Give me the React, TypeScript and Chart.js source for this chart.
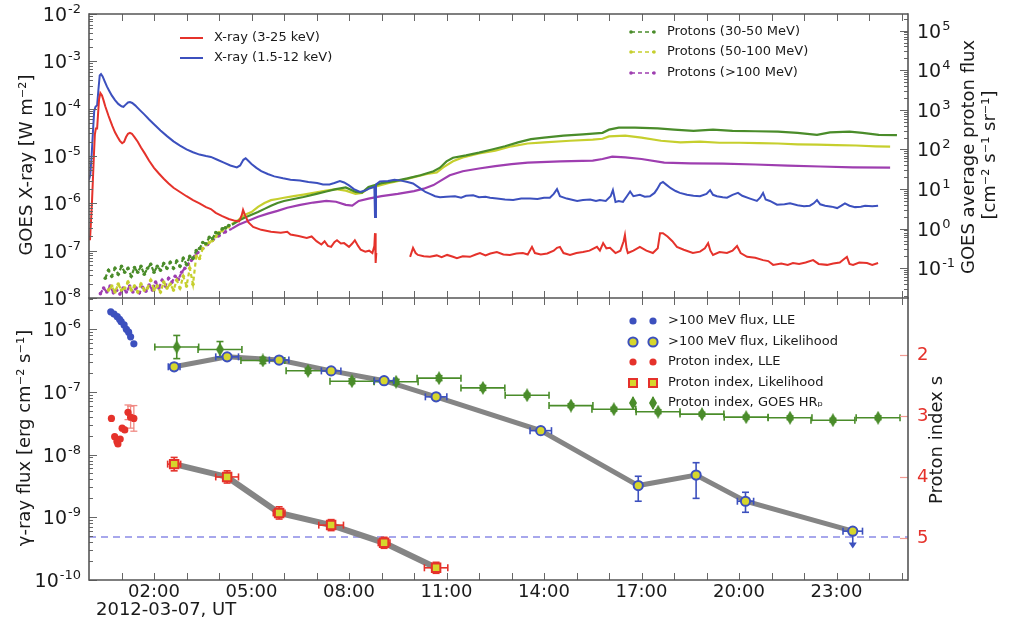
import React, { useEffect, useRef } from "react";
import { Chart, registerables } from "chart.js";
Chart.register(...registerables);

const FONT = "'DejaVu Sans', 'Liberation Sans', sans-serif";
const X_MIN = 0;
const X_MAX = 25.2;
const HOUR_LABEL_TICKS = [2, 5, 8, 11, 14, 17, 20, 23];
const TOP_LEFT_TICKS = [1e-8, 1e-7, 1e-6, 1e-5, 1e-4, 1e-3, 1e-2];
const TOP_RIGHT_TICKS = [1e-1, 1, 10, 100, 1e3, 1e4, 1e5];
const BOTTOM_LEFT_TICKS = [1e-10, 1e-9, 1e-8, 1e-7, 1e-6];
const INDEX_TICKS = [2, 3, 4, 5];

const RED = "#e5322b";
const BLUE = "#3c50be";
const GREEN = "#4a8c2a";
const YELLOW = "#c6cf2e";
const PURPLE = "#9e3eb0";
const MARK_YELLOW = "#d6d62c";
const GRAY = "#858585";

// ---------- top panel: [hour, log10 value] ----------
const xrayHard: [number, number | null][] = [
  [0.03, -6.78], [0.06, -6.4], [0.09, -6.0], [0.12, -5.5], [0.15, -5.0], [0.18, -4.55], [0.21, -4.42], [0.25, -4.42],
  [0.28, -4.1], [0.31, -3.8], [0.35, -3.67], [0.4, -3.72], [0.45, -3.83], [0.5, -3.95], [0.55, -4.05], [0.6, -4.15],
  [0.65, -4.24], [0.72, -4.37], [0.8, -4.5], [0.88, -4.6], [0.95, -4.68], [1.02, -4.73], [1.08, -4.7], [1.14, -4.6],
  [1.2, -4.53], [1.26, -4.51], [1.32, -4.53], [1.4, -4.6], [1.5, -4.7], [1.6, -4.82], [1.72, -4.95], [1.85, -5.1],
  [2.0, -5.25], [2.15, -5.37], [2.3, -5.48], [2.45, -5.58], [2.6, -5.67], [2.8, -5.76], [3.0, -5.85], [3.2, -5.93],
  [3.4, -6.0], [3.6, -6.08], [3.75, -6.12], [3.9, -6.2], [4.1, -6.27], [4.3, -6.33], [4.5, -6.37], [4.62, -6.38],
  [4.7, -6.25], [4.74, -6.14], [4.8, -6.25], [4.9, -6.4], [5.05, -6.5], [5.3, -6.56], [5.6, -6.6], [5.9, -6.62],
  [6.1, -6.6], [6.2, -6.66], [6.45, -6.69], [6.7, -6.73], [6.85, -6.7], [7.0, -6.8], [7.15, -6.87], [7.25, -6.8],
  [7.35, -6.9], [7.45, -6.92], [7.55, -6.82], [7.63, -6.78], [7.75, -6.85], [7.85, -6.84], [8.0, -6.92], [8.1, -6.85],
  [8.18, -6.78], [8.28, -6.9], [8.36, -6.98], [8.5, -7.02], [8.62, -7.0], [8.72, -7.05], [8.78, -6.9], [8.8, -6.63],
  [8.82, -7.26], [8.84, -7.05], [9.3, null],
  [9.88, -7.13], [9.97, -6.94], [10.05, -7.05], [10.12, -7.09], [10.3, -7.12], [10.49, -7.13], [10.7, -7.1],
  [10.85, -7.14], [11.02, -7.09], [11.2, -7.13], [11.32, -7.16], [11.5, -7.12], [11.72, -7.13], [11.9, -7.08],
  [12.03, -7.05], [12.2, -7.1], [12.35, -7.06], [12.55, -7.03], [12.75, -7.08], [12.95, -7.09], [13.15, -7.06],
  [13.35, -7.05], [13.5, -7.08], [13.63, -6.92], [13.72, -7.05], [13.9, -7.08], [14.1, -7.06], [14.3, -7.0],
  [14.4, -6.94], [14.49, -6.92], [14.6, -7.05], [14.8, -7.09], [15.0, -7.05], [15.2, -7.03], [15.4, -7.0],
  [15.63, -6.92], [15.72, -7.0], [15.82, -6.84], [15.92, -6.95], [16.03, -6.94], [16.2, -7.05], [16.35, -7.0],
  [16.45, -6.8], [16.49, -6.67], [16.54, -6.95], [16.58, -7.05], [16.75, -7.0], [16.95, -6.92], [17.15, -7.0],
  [17.35, -7.05], [17.5, -6.95], [17.57, -6.63], [17.66, -6.63], [17.8, -6.7], [17.95, -6.8], [18.09, -6.92],
  [18.3, -6.98], [18.58, -7.05], [18.8, -7.02], [18.95, -6.95], [19.05, -6.84], [19.12, -7.0], [19.2, -7.09],
  [19.4, -7.03], [19.63, -7.05], [19.8, -7.0], [19.94, -6.9], [20.05, -7.05], [20.25, -7.13], [20.5, -7.15],
  [20.74, -7.2], [20.9, -7.22], [21.05, -7.3], [21.3, -7.27], [21.5, -7.3], [21.66, -7.26], [21.85, -7.28],
  [22.05, -7.25], [22.28, -7.2], [22.45, -7.28], [22.71, -7.3], [22.9, -7.27], [23.1, -7.25], [23.32, -7.13],
  [23.4, -7.28], [23.51, -7.3], [23.7, -7.25], [23.94, -7.26], [24.1, -7.3], [24.28, -7.26],
];

const xraySoft: [number, number][] = [
  [0.0, -5.5], [0.04, -5.4], [0.08, -5.0], [0.12, -4.5], [0.16, -4.05], [0.2, -3.96], [0.25, -3.93], [0.29, -3.6],
  [0.33, -3.3], [0.37, -3.27], [0.42, -3.32], [0.48, -3.42], [0.55, -3.53], [0.62, -3.62], [0.7, -3.72], [0.8, -3.82],
  [0.9, -3.9], [1.0, -3.95], [1.06, -3.96], [1.12, -3.92], [1.2, -3.87], [1.26, -3.86], [1.33, -3.88], [1.42, -3.93],
  [1.55, -4.02], [1.7, -4.12], [1.85, -4.23], [2.0, -4.33], [2.2, -4.46], [2.4, -4.58], [2.6, -4.69], [2.8, -4.78],
  [3.0, -4.86], [3.2, -4.92], [3.4, -4.97], [3.6, -5.0], [3.75, -5.02], [3.95, -5.08], [4.15, -5.14], [4.35, -5.2],
  [4.55, -5.24], [4.65, -5.2], [4.75, -5.08], [4.82, -5.05], [4.9, -5.1], [5.0, -5.17], [5.15, -5.25], [5.3, -5.32],
  [5.5, -5.38], [5.7, -5.43], [5.97, -5.47], [6.2, -5.5], [6.49, -5.52], [6.75, -5.55], [7.02, -5.57], [7.2, -5.6],
  [7.4, -5.6], [7.55, -5.57], [7.72, -5.53], [7.85, -5.56], [8.0, -5.62], [8.15, -5.7], [8.34, -5.76], [8.5, -5.73],
  [8.65, -5.68], [8.78, -5.65], [8.8, -6.29], [8.83, -5.6], [8.95, -5.54], [9.2, -5.53], [9.4, -5.5], [9.6, -5.52],
  [9.8, -5.55], [9.97, -5.58], [10.18, -5.68], [10.35, -5.76], [10.49, -5.8], [10.65, -5.85], [10.8, -5.87],
  [11.0, -5.86], [11.26, -5.85], [11.45, -5.88], [11.6, -5.84], [11.82, -5.83], [12.0, -5.87], [12.2, -5.86],
  [12.34, -5.88], [12.55, -5.9], [12.8, -5.92], [13.05, -5.93], [13.3, -5.9], [13.57, -5.9], [13.8, -5.91],
  [14.0, -5.88], [14.18, -5.88], [14.3, -5.8], [14.4, -5.7], [14.49, -5.85], [14.7, -5.9], [15.02, -5.95],
  [15.2, -5.93], [15.42, -5.92], [15.6, -5.95], [15.72, -5.93], [15.9, -5.95], [16.05, -5.85], [16.12, -5.72],
  [16.2, -5.97], [16.3, -5.95], [16.43, -5.97], [16.55, -5.85], [16.65, -5.75], [16.75, -5.85], [16.95, -5.82],
  [17.1, -5.86], [17.26, -5.85], [17.4, -5.78], [17.48, -5.7], [17.58, -5.58], [17.66, -5.55], [17.75, -5.6],
  [17.9, -5.68], [18.05, -5.74], [18.18, -5.78], [18.4, -5.82], [18.6, -5.84], [18.8, -5.85], [19.0, -5.8],
  [19.11, -5.72], [19.2, -5.82], [19.32, -5.85], [19.5, -5.87], [19.63, -5.88], [19.8, -5.82], [19.97, -5.78],
  [20.1, -5.84], [20.34, -5.9], [20.55, -5.95], [20.65, -5.88], [20.74, -5.78], [20.82, -5.92], [20.95, -5.95],
  [21.17, -6.03], [21.4, -6.02], [21.57, -6.0], [21.8, -6.04], [22.0, -6.06], [22.18, -6.05], [22.3, -6.0],
  [22.4, -5.93], [22.5, -6.02], [22.65, -6.05], [22.85, -6.07], [23.02, -6.1], [23.15, -6.05], [23.26, -6.0],
  [23.4, -6.05], [23.57, -6.08], [23.75, -6.07], [23.88, -6.05], [24.1, -6.06], [24.28, -6.05],
];

const protons30to50: [number, number][] = [
  [0.5, -1.25], [0.6, -1.05], [0.7, -1.2], [0.8, -1.0], [0.9, -1.15], [1.0, -0.95], [1.1, -1.1], [1.2, -1.0],
  [1.3, -1.2], [1.4, -0.98], [1.5, -1.1], [1.6, -0.95], [1.7, -1.15], [1.8, -1.0], [1.9, -0.9], [2.0, -1.1],
  [2.1, -0.95], [2.2, -1.05], [2.3, -0.88], [2.4, -1.0], [2.5, -0.85], [2.6, -1.0], [2.7, -0.82], [2.8, -0.95],
  [2.9, -0.75], [3.0, -0.9], [3.1, -0.7], [3.2, -0.75], [3.3, -0.55], [3.4, -0.5], [3.5, -0.35], [3.6, -0.38],
  [3.7, -0.22], [3.8, -0.25], [3.9, -0.1], [4.0, -0.12], [4.1, 0.0], [4.2, 0.02], [4.3, 0.08], [4.4, 0.1],
  [4.6, 0.2], [4.8, 0.28], [5.0, 0.35], [5.2, 0.42], [5.4, 0.5], [5.6, 0.58], [5.8, 0.65], [6.0, 0.7],
  [6.3, 0.75], [6.6, 0.8], [7.0, 0.88], [7.3, 0.94], [7.6, 1.0], [7.9, 1.04], [8.2, 0.93], [8.4, 0.91],
  [8.6, 1.05], [8.8, 1.1], [9.0, 1.15], [9.4, 1.2], [9.8, 1.27], [10.2, 1.35], [10.6, 1.45], [10.8, 1.54],
  [11.0, 1.7], [11.2, 1.79], [11.6, 1.85], [12.0, 1.92], [12.4, 2.0], [12.8, 2.08], [13.2, 2.18], [13.6, 2.26],
  [14.0, 2.3], [14.6, 2.35], [15.2, 2.38], [15.8, 2.42], [16.0, 2.5], [16.3, 2.55], [16.8, 2.55], [17.5, 2.53],
  [18.0, 2.5], [18.6, 2.47], [19.2, 2.5], [19.8, 2.47], [20.5, 2.46], [21.2, 2.45], [21.8, 2.42], [22.4, 2.37],
  [22.8, 2.43], [23.4, 2.45], [23.8, 2.42], [24.3, 2.37], [24.86, 2.36],
];

const protons50to100: [number, number][] = [
  [0.6, -1.55], [0.7, -1.45], [0.8, -1.6], [0.9, -1.4], [1.0, -1.55], [1.1, -1.5], [1.2, -1.35], [1.3, -1.55],
  [1.4, -1.45], [1.5, -1.6], [1.6, -1.4], [1.7, -1.55], [1.8, -1.5], [1.9, -1.3], [2.0, -1.55], [2.1, -1.45],
  [2.2, -1.6], [2.3, -1.35], [2.4, -1.5], [2.5, -1.4], [2.6, -1.55], [2.7, -1.3], [2.8, -1.5], [2.9, -1.2],
  [3.0, -1.45], [3.1, -1.0], [3.2, -1.4], [3.3, -0.7], [3.4, -0.75], [3.5, -0.5], [3.6, -0.4], [3.7, -0.35],
  [3.8, -0.3], [3.9, -0.2], [4.0, -0.1], [4.1, -0.05], [4.2, 0.02], [4.3, 0.05], [4.4, 0.12], [4.6, 0.22],
  [4.8, 0.35], [5.0, 0.42], [5.2, 0.55], [5.4, 0.65], [5.6, 0.72], [5.8, 0.75], [6.0, 0.78], [6.3, 0.82],
  [6.6, 0.86], [7.0, 0.92], [7.3, 0.96], [7.6, 1.0], [7.9, 0.96], [8.2, 0.88], [8.4, 0.9], [8.6, 1.02],
  [8.8, 1.06], [9.2, 1.15], [9.6, 1.22], [10.0, 1.3], [10.4, 1.38], [10.7, 1.42], [10.9, 1.55], [11.2, 1.7],
  [11.5, 1.8], [12.0, 1.9], [12.5, 1.97], [13.0, 2.08], [13.5, 2.15], [14.0, 2.18], [14.8, 2.22], [15.5, 2.25],
  [15.8, 2.27], [16.0, 2.33], [16.5, 2.35], [17.0, 2.3], [17.6, 2.22], [18.2, 2.18], [18.8, 2.2], [19.4, 2.17],
  [20.0, 2.17], [20.6, 2.16], [21.2, 2.15], [21.8, 2.13], [22.4, 2.12], [23.0, 2.11], [23.6, 2.1], [24.2, 2.08],
  [24.65, 2.07],
];

const protonsAbove100: [number, number][] = [
  [0.35, -1.64], [0.45, -1.5], [0.55, -1.6], [0.65, -1.45], [0.75, -1.62], [0.85, -1.55], [0.95, -1.65],
  [1.05, -1.5], [1.15, -1.6], [1.25, -1.45], [1.35, -1.6], [1.45, -1.5], [1.55, -1.62], [1.65, -1.48],
  [1.75, -1.58], [1.85, -1.42], [1.95, -1.55], [2.05, -1.35], [2.15, -1.5], [2.25, -1.3], [2.35, -1.45],
  [2.45, -1.25], [2.55, -1.35], [2.65, -1.2], [2.75, -1.28], [2.85, -1.1], [2.95, -1.0], [3.05, -0.9],
  [3.15, -0.8], [3.25, -0.7], [3.35, -0.6], [3.5, -0.5], [3.65, -0.4], [3.8, -0.3], [4.0, -0.18], [4.2, -0.08],
  [4.4, 0.0], [4.6, 0.1], [4.9, 0.2], [5.2, 0.3], [5.5, 0.38], [5.8, 0.45], [6.1, 0.53], [6.5, 0.6], [6.9, 0.66],
  [7.3, 0.7], [7.6, 0.68], [7.9, 0.6], [8.1, 0.58], [8.3, 0.7], [8.6, 0.76], [9.0, 0.82], [9.5, 0.88],
  [10.0, 0.95], [10.3, 1.01], [10.6, 1.1], [10.8, 1.2], [11.1, 1.35], [11.5, 1.45], [12.0, 1.52], [12.5, 1.58],
  [13.0, 1.63], [13.5, 1.67], [14.5, 1.7], [15.5, 1.72], [15.8, 1.76], [16.1, 1.82], [16.5, 1.8], [17.0, 1.76],
  [17.7, 1.67], [18.5, 1.65], [19.5, 1.64], [20.5, 1.62], [21.5, 1.59], [22.5, 1.57], [23.5, 1.55], [24.65, 1.54],
];

// ---------- bottom panel ----------
const lleFluxHours = [0.67, 0.77, 0.87, 0.94, 0.99, 1.08, 1.15, 1.22, 1.28, 1.38];
const lleFlux = [1.88e-6, 1.73e-6, 1.57e-6, 1.43e-6, 1.31e-6, 1.16e-6, 9.9e-7, 8.9e-7, 7.5e-7, 5.8e-7];

const likeFluxHours = [2.62, 4.25, 5.85, 7.45, 9.08, 10.68, 13.9, 16.9, 18.68, 20.2, 23.5];
const likeFlux = [2.5e-7, 3.6e-7, 3.2e-7, 2.15e-7, 1.5e-7, 8.3e-8, 2.4e-8, 3.2e-9, 4.7e-9, 1.8e-9, 6.0e-10];
const likeFluxHourErr = [0.18, 0.35, 0.3, 0.3, 0.3, 0.33, 0.33, 0, 0, 0.25, 0.3];
const likeFluxLow = [null, null, null, null, null, null, 2.1e-8, 1.8e-9, 2.0e-9, 1.2e-9, null];
const likeFluxHigh = [null, null, null, null, null, null, 2.7e-8, 4.5e-9, 7.4e-9, 2.5e-9, null];
const likeFluxUpperTo = [null, null, null, null, null, null, null, null, null, null, 3.3e-10];

const lleIndexHours = [0.69, 0.79, 0.86, 0.89, 0.96, 1.02, 1.1, 1.2, 1.28, 1.38];
const lleIndex = [3.04, 3.34, 3.42, 3.46, 3.38, 3.2, 3.23, 2.94, 3.02, 3.04];
const lleIndexErr = [0, 0, 0, 0, 0, 0, 0, 0.12, 0.18, 0.21];

const likeIndexHours = [2.62, 4.25, 5.85, 7.45, 9.08, 10.68];
const likeIndex = [3.79, 4.0, 4.59, 4.79, 5.08, 5.49];
const likeIndexErr = [0.11, 0.1, 0.1, 0.09, 0.09, 0.09];
const likeIndexHourErr = [0.2, 0.35, 0.18, 0.38, 0.18, 0.36];

const goesHours = [2.7, 4.03, 5.35, 6.74, 8.09, 9.45, 10.77, 12.12, 13.48, 14.83, 16.15, 17.51, 18.86, 20.22, 21.57, 22.89, 24.28];
const goesIndex = [1.87, 1.91, 2.09, 2.26, 2.43, 2.44, 2.38, 2.54, 2.66, 2.83, 2.89, 2.93, 2.97, 3.02, 3.03, 3.07, 3.03];
const goesIndexErr = [0.19, 0.13, 0.05, 0.04, 0.04, 0.04, 0.04, 0.04, 0.03, 0.03, 0.03, 0.03, 0.03, 0.03, 0.03, 0.03, 0.03];
const goesHourErr = 0.675;

const lleThreshold = 4.86e-10;

// ---------- layout constants (page pixels) ----------
const TOP_PLOT_TOP = 14;
const MID_Y = 298;
const BOTTOM_PLOT_BOTTOM = 580;
const BOT_PAD_TOP = 24;
const BOT_XAXIS_H = 44;

// ---------- helpers ----------
const logSeries = (arr: [number, number | null][]) =>
  arr.map(([x, l]) => ({ x, y: l === null ? null : Math.pow(10, l) }));
const zipSeries = (xs: number[], ys: number[]) => xs.map((x, i) => ({ x, y: ys[i] }));
const hourLabel = (h: number) => `${String(h).padStart(2, "0")}:00`;

function thinDiamond(color: string, w: number, h: number) {
  const c = document.createElement("canvas");
  c.width = w;
  c.height = h;
  const g = c.getContext("2d")!;
  g.fillStyle = color;
  g.beginPath();
  g.moveTo(w / 2, 0);
  g.lineTo(w, h / 2);
  g.lineTo(w / 2, h);
  g.lineTo(0, h / 2);
  g.closePath();
  g.fill();
  return c;
}

function line(ctx: CanvasRenderingContext2D, x1: number, y1: number, x2: number, y2: number) {
  ctx.beginPath();
  ctx.moveTo(x1, y1);
  ctx.lineTo(x2, y2);
  ctx.stroke();
}

function vText(ctx: CanvasRenderingContext2D, text: string, x: number, y: number, size = 18, color = "#1a1a1a") {
  ctx.save();
  ctx.translate(x, y);
  ctx.rotate(-Math.PI / 2);
  ctx.font = `${size}px ${FONT}`;
  ctx.fillStyle = color;
  ctx.textAlign = "center";
  ctx.textBaseline = "middle";
  ctx.fillText(text, 0, 0);
  ctx.restore();
}

// "10" with a raised exponent, like the mathtext tick labels
function drawPowLabels(ctx: CanvasRenderingContext2D, scale: any, side: "left" | "right", anchorX: number) {
  ctx.save();
  ctx.fillStyle = "#1a1a1a";
  ctx.textBaseline = "alphabetic";
  ctx.textAlign = "left";
  for (const t of scale.ticks) {
    const v = t.value;
    const e = String(Math.round(Math.log10(v)));
    const py = scale.getPixelForValue(v);
    ctx.font = `19px ${FONT}`;
    const wBase = ctx.measureText("10").width;
    ctx.font = `13px ${FONT}`;
    const wExp = ctx.measureText(e).width;
    const x0 = side === "left" ? anchorX - wBase - wExp - 1 : anchorX;
    const base = py + 7;
    ctx.font = `19px ${FONT}`;
    ctx.fillText("10", x0, base);
    ctx.font = `13px ${FONT}`;
    ctx.fillText(e, x0 + wBase + 1, base - 8);
  }
  ctx.restore();
}

function logTickList(min: number, max: number) {
  const out: { v: number; major: boolean }[] = [];
  for (let e = Math.floor(Math.log10(min)); e <= Math.ceil(Math.log10(max)); e++) {
    for (let m = 1; m <= 9; m++) {
      const v = m * Math.pow(10, e);
      if (v >= min * 0.9999 && v <= max * 1.0001) out.push({ v, major: m === 1 });
    }
  }
  return out;
}

function drawFrameAndTicks(chart: any, rightLog: boolean, sides: { top: boolean; bottom: boolean }, rightTicks?: number[]) {
  const { ctx, chartArea: a, scales } = chart;
  ctx.save();
  ctx.strokeStyle = "#666";
  ctx.lineWidth = 1;
  for (let h = 1; h <= 25; h++) {
    const px = Math.round(scales.x.getPixelForValue(h)) + 0.5;
    line(ctx, px, a.top, px, a.top + 7);
    line(ctx, px, a.bottom, px, a.bottom - 7);
  }
  const yl = scales.y;
  for (const t of logTickList(yl.min, yl.max)) {
    const py = Math.round(yl.getPixelForValue(t.v)) + 0.5;
    line(ctx, a.left, py, a.left + (t.major ? 8 : 4), py);
  }
  const yr = scales.y2;
  if (rightLog) {
    for (const t of logTickList(yr.min, yr.max)) {
      const py = Math.round(yr.getPixelForValue(t.v)) + 0.5;
      line(ctx, a.right, py, a.right - (t.major ? 8 : 4), py);
    }
  } else if (rightTicks) {
    ctx.strokeStyle = "#f29a92";
    ctx.lineWidth = 1.2;
    for (const v of rightTicks) {
      const py = Math.round(yr.getPixelForValue(v)) + 0.5;
      line(ctx, a.right, py, a.right - 8, py);
    }
  }
  ctx.strokeStyle = "#555";
  ctx.lineWidth = 1.6;
  line(ctx, a.left, a.top - 0.8, a.left, a.bottom + 0.8);
  line(ctx, a.right, a.top - 0.8, a.right, a.bottom + 0.8);
  if (sides.top) line(ctx, a.left, a.top, a.right, a.top);
  if (sides.bottom) line(ctx, a.left, a.bottom, a.right, a.bottom);
  ctx.restore();
}

function drawErrorBars(chart: any, ds: any) {
  const eb = ds.errorBars;
  if (!eb) return;
  const { ctx } = chart;
  const xs = chart.scales.x;
  const ys = chart.scales[ds.yAxisID];
  ctx.save();
  ctx.strokeStyle = eb.color;
  ctx.fillStyle = eb.color;
  ctx.lineWidth = eb.width || 1.5;
  const cap = eb.cap || 3.5;
  ds.data.forEach((p: any, i: number) => {
    const px = xs.getPixelForValue(p.x);
    const py = ys.getPixelForValue(p.y);
    const xe = eb.xErr ? eb.xErr[i] : 0;
    if (xe) {
      const x1 = xs.getPixelForValue(p.x - xe);
      const x2 = xs.getPixelForValue(p.x + xe);
      line(ctx, x1, py, x2, py);
      line(ctx, x1, py - cap, x1, py + cap);
      line(ctx, x2, py - cap, x2, py + cap);
    }
    const lo = eb.yLo ? eb.yLo[i] : null;
    const hi = eb.yHi ? eb.yHi[i] : null;
    if (lo != null && hi != null && lo !== hi) {
      const y1 = ys.getPixelForValue(lo);
      const y2 = ys.getPixelForValue(hi);
      line(ctx, px, y1, px, y2);
      line(ctx, px - cap, y1, px + cap, y1);
      line(ctx, px - cap, y2, px + cap, y2);
    }
    const ul = eb.upperTo ? eb.upperTo[i] : null;
    if (ul != null) {
      const y2 = ys.getPixelForValue(ul);
      line(ctx, px, py, px, y2 - 4);
      ctx.beginPath();
      ctx.moveTo(px - 4, y2 - 5);
      ctx.lineTo(px + 4, y2 - 5);
      ctx.lineTo(px, y2 + 1);
      ctx.closePath();
      ctx.fill();
    }
  });
  ctx.restore();
}

const axisFont = { family: FONT, size: 18 };
const BOT_CANVAS_H = BOT_PAD_TOP + (BOTTOM_PLOT_BOTTOM - MID_Y) + BOT_XAXIS_H;

export default function App() {
  const topRef = useRef<HTMLCanvasElement>(null);
  const botRef = useRef<HTMLCanvasElement>(null);

  useEffect(() => {
    const protonRadius = (c: any) => (c.raw && c.raw.x < 4.4 ? 1.8 : 0);
    const protonDash = (c: any) => (c.p0.parsed.x < 4.4 ? [4, 3] : undefined);
    const protonDs = (label: string, arr: [number, number][], color: string) => ({
      label,
      data: logSeries(arr),
      yAxisID: "y2",
      borderColor: color,
      backgroundColor: color,
      borderWidth: 2.2,
      pointRadius: protonRadius,
      pointBorderWidth: 0,
      pointBackgroundColor: color,
      segment: { borderDash: protonDash },
      order: 5,
    });

    const topPlugin = {
      id: "topDeco",
      afterDraw(chart: any) {
        const ctx = chart.ctx as CanvasRenderingContext2D;
        const a = chart.chartArea;
        const off = a.top - TOP_PLOT_TOP;
        const Y = (pageY: number) => pageY + off;
        drawFrameAndTicks(chart, true, { top: true, bottom: true });
        drawPowLabels(ctx, chart.scales.y, "left", a.left - 8);
        drawPowLabels(ctx, chart.scales.y2, "right", a.right + 9);
        vText(ctx, "GOES X-ray [W m\u207B\u00B2]", 27, Y(165));
        vText(ctx, "GOES average proton flux", 969, Y(157));
        vText(ctx, "[cm\u207B\u00B2 s\u207B\u00B9 sr\u207B\u00B9]", 990, Y(155));
        ctx.save();
        ctx.font = `13px ${FONT}`;
        ctx.textBaseline = "middle";
        ctx.fillStyle = "#1a1a1a";
        const xr = [
          ["X-ray (3-25 keV)", RED, 38],
          ["X-ray (1.5-12 keV)", BLUE, 58],
        ] as const;
        for (const [t, c, y0] of xr) {
          const y = Y(y0);
          ctx.strokeStyle = c;
          ctx.lineWidth = 2;
          line(ctx, 180, y, 203, y);
          ctx.fillText(t, 214, y);
        }
        const pr = [
          ["Protons (30-50 MeV)", GREEN, 32],
          ["Protons (50-100 MeV)", YELLOW, 52],
          ["Protons (>100 MeV)", PURPLE, 73],
        ] as const;
        for (const [t, c, y0] of pr) {
          const y = Y(y0);
          ctx.strokeStyle = c;
          ctx.fillStyle = c;
          ctx.lineWidth = 1.6;
          ctx.setLineDash([4, 3]);
          line(ctx, 631, y, 654, y);
          ctx.setLineDash([]);
          for (const px of [631, 654]) {
            ctx.beginPath();
            ctx.arc(px, y, 1.8, 0, Math.PI * 2);
            ctx.fill();
          }
          ctx.fillStyle = "#1a1a1a";
          ctx.fillText(t, 667, y);
        }
        ctx.restore();
      },
    };

    const top = new Chart(topRef.current!, {
      type: "line",
      data: {
        datasets: [
          protonDs("Protons (30-50 MeV)", protons30to50, GREEN),
          protonDs("Protons (50-100 MeV)", protons50to100, YELLOW),
          protonDs("Protons (>100 MeV)", protonsAbove100, PURPLE),
          {
            label: "X-ray (3-25 keV)",
            data: logSeries(xrayHard),
            yAxisID: "y",
            borderColor: RED,
            borderWidth: 2,
            pointRadius: 0,
            spanGaps: false,
            order: 2,
          },
          {
            label: "X-ray (1.5-12 keV)",
            data: logSeries(xraySoft),
            yAxisID: "y",
            borderColor: BLUE,
            borderWidth: 2,
            pointRadius: 0,
            order: 3,
          },
        ] as any,
      },
      options: {
        animation: false,
        responsive: false,
        maintainAspectRatio: false,
        parsing: false as any,
        layout: { padding: { top: 14, bottom: 12, left: 0, right: 0 } },
        plugins: { legend: { display: false }, tooltip: { enabled: false } },
        scales: {
          x: { type: "linear", min: X_MIN, max: X_MAX, display: false },
          y: {
            type: "logarithmic",
            position: "left",
            min: 1e-8,
            max: 1e-2,
            afterFit: (s: any) => { s.width = 89; },
            afterBuildTicks: (s: any) => { s.ticks = TOP_LEFT_TICKS.map((v) => ({ value: v })); },
            ticks: { display: false },
            grid: { display: false, drawTicks: false },
            border: { display: false },
          },
          y2: {
            type: "logarithmic",
            position: "right",
            min: Math.pow(10, -1.75),
            max: Math.pow(10, 5.42),
            afterFit: (s: any) => { s.width = 101; },
            afterBuildTicks: (s: any) => { s.ticks = TOP_RIGHT_TICKS.map((v) => ({ value: v })); },
            ticks: { display: false },
            grid: { display: false, drawTicks: false },
            border: { display: false },
          },
        },
      } as any,
      plugins: [topPlugin],
    });

    const diamond = thinDiamond(GREEN, 8, 14);

    const botPlugin = {
      id: "botDeco",
      beforeDatasetDraw(chart: any, args: any) {
        drawErrorBars(chart, chart.data.datasets[args.index]);
      },
      afterDraw(chart: any) {
        const ctx = chart.ctx as CanvasRenderingContext2D;
        const a = chart.chartArea;
        const off = a.top - MID_Y;
        const Y = (pageY: number) => pageY + off;
        drawFrameAndTicks(chart, false, { top: false, bottom: true }, INDEX_TICKS);
        drawPowLabels(ctx, chart.scales.y, "left", a.left - 8);
        vText(ctx, "\u03B3-ray flux [erg cm\u207B\u00B2 s\u207B\u00B9]", 25, Y(438));
        vText(ctx, "Proton index s", 937, Y(440));
        ctx.save();
        ctx.font = `18px ${FONT}`;
        ctx.fillStyle = "#1a1a1a";
        ctx.textBaseline = "middle";
        ctx.textAlign = "left";
        ctx.fillText("2012-03-07, UT", 96, Y(610));
        // legend
        ctx.font = `13px ${FONT}`;
        const ly = [321, 342, 362, 383, 403].map(Y);
        const mx = [633, 653];
        for (const x of mx) {
          ctx.fillStyle = BLUE;
          ctx.beginPath(); ctx.arc(x, ly[0], 3.6, 0, Math.PI * 2); ctx.fill();
          ctx.fillStyle = MARK_YELLOW; ctx.strokeStyle = BLUE; ctx.lineWidth = 2;
          ctx.beginPath(); ctx.arc(x, ly[1], 4.6, 0, Math.PI * 2); ctx.fill(); ctx.stroke();
          ctx.fillStyle = RED;
          ctx.beginPath(); ctx.arc(x, ly[2], 3.6, 0, Math.PI * 2); ctx.fill();
          ctx.fillStyle = MARK_YELLOW; ctx.strokeStyle = RED; ctx.lineWidth = 2;
          ctx.fillRect(x - 4, ly[3] - 4, 8, 8); ctx.strokeRect(x - 4, ly[3] - 4, 8, 8);
          ctx.strokeStyle = GREEN; ctx.lineWidth = 1.5;
          line(ctx, x, ly[4] - 6, x, ly[4] + 6);
          ctx.drawImage(diamond, x - 4, ly[4] - 7);
        }
        ctx.fillStyle = "#1a1a1a";
        const texts = [
          ">100 MeV flux, LLE",
          ">100 MeV flux, Likelihood",
          "Proton index, LLE",
          "Proton index, Likelihood",
          "Proton index, GOES HR\u209A",
        ];
        texts.forEach((t, i) => ctx.fillText(t, 668, ly[i]));
        ctx.restore();
      },
    };

    const bot = new Chart(botRef.current!, {
      type: "line",
      data: {
        datasets: [
          {
            label: "threshold",
            data: [{ x: X_MIN, y: lleThreshold }, { x: X_MAX, y: lleThreshold }],
            yAxisID: "y",
            borderColor: "#8a8ae6",
            borderWidth: 1.5,
            borderDash: [7, 5],
            pointRadius: 0,
            order: 20,
          },
          {
            label: "flux likelihood band",
            data: zipSeries(likeFluxHours, likeFlux),
            yAxisID: "y",
            borderColor: GRAY,
            borderWidth: 5,
            pointRadius: 0,
            order: 15,
          },
          {
            label: "index likelihood band",
            data: zipSeries(likeIndexHours, likeIndex),
            yAxisID: "y2",
            borderColor: GRAY,
            borderWidth: 6,
            pointRadius: 0,
            order: 14,
          },
          {
            label: "Proton index, GOES HRp",
            data: zipSeries(goesHours, goesIndex),
            yAxisID: "y2",
            showLine: false,
            pointStyle: diamond,
            pointRadius: 6,
            errorBars: {
              color: GREEN,
              width: 1.6,
              xErr: goesHours.map(() => goesHourErr),
              yLo: goesIndex.map((v, i) => v - goesIndexErr[i]),
              yHi: goesIndex.map((v, i) => v + goesIndexErr[i]),
            },
            order: 6,
          },
          {
            label: ">100 MeV flux, LLE",
            data: zipSeries(lleFluxHours, lleFlux),
            yAxisID: "y",
            showLine: false,
            pointStyle: "circle",
            pointRadius: 3.6,
            pointBackgroundColor: BLUE,
            pointBorderColor: BLUE,
            pointBorderWidth: 0,
            order: 4,
          },
          {
            label: "Proton index, LLE",
            data: zipSeries(lleIndexHours, lleIndex),
            yAxisID: "y2",
            showLine: false,
            pointStyle: "circle",
            pointRadius: 3.6,
            pointBackgroundColor: RED,
            pointBorderColor: RED,
            pointBorderWidth: 0,
            errorBars: {
              color: "#f08a84",
              width: 1.3,
              yLo: lleIndex.map((v, i) => v - lleIndexErr[i]),
              yHi: lleIndex.map((v, i) => v + lleIndexErr[i]),
            },
            order: 4,
          },
          {
            label: ">100 MeV flux, Likelihood",
            data: zipSeries(likeFluxHours, likeFlux),
            yAxisID: "y",
            showLine: false,
            pointStyle: "circle",
            pointRadius: 4.6,
            pointBackgroundColor: MARK_YELLOW,
            pointBorderColor: BLUE,
            pointBorderWidth: 2,
            errorBars: {
              color: BLUE,
              width: 1.6,
              xErr: likeFluxHourErr,
              yLo: likeFluxLow,
              yHi: likeFluxHigh,
              upperTo: likeFluxUpperTo,
            },
            order: 2,
          },
          {
            label: "Proton index, Likelihood",
            data: zipSeries(likeIndexHours, likeIndex),
            yAxisID: "y2",
            showLine: false,
            pointStyle: "rect",
            pointRadius: 6,
            pointBackgroundColor: MARK_YELLOW,
            pointBorderColor: RED,
            pointBorderWidth: 2,
            errorBars: {
              color: RED,
              width: 1.6,
              xErr: likeIndexHourErr,
              yLo: likeIndex.map((v, i) => v - likeIndexErr[i]),
              yHi: likeIndex.map((v, i) => v + likeIndexErr[i]),
            },
            order: 1,
          },
        ] as any,
      },
      options: {
        animation: false,
        responsive: false,
        maintainAspectRatio: false,
        parsing: false as any,
        layout: { padding: { top: BOT_PAD_TOP, bottom: 0, left: 0, right: 0 } },
        plugins: { legend: { display: false }, tooltip: { enabled: false } },
        scales: {
          x: {
            type: "linear",
            min: X_MIN,
            max: X_MAX,
            afterFit: (s: any) => { s.height = BOT_XAXIS_H; },
            afterBuildTicks: (s: any) => { s.ticks = HOUR_LABEL_TICKS.map((v) => ({ value: v })); },
            ticks: { callback: (v: any) => hourLabel(Number(v)), font: axisFont, color: "#1a1a1a", padding: 2, maxRotation: 0, autoSkip: false },
            grid: { display: false, drawTicks: false },
            border: { display: false },
          },
          y: {
            type: "logarithmic",
            position: "left",
            min: 1e-10,
            max: 3.12e-6,
            afterFit: (s: any) => { s.width = 89; },
            afterBuildTicks: (s: any) => { s.ticks = BOTTOM_LEFT_TICKS.map((v) => ({ value: v })); },
            ticks: { display: false },
            grid: { display: false, drawTicks: false },
            border: { display: false },
          },
          y2: {
            type: "linear",
            position: "right",
            reverse: true,
            min: 1.066,
            max: 5.69,
            afterFit: (s: any) => { s.width = 101; },
            afterBuildTicks: (s: any) => { s.ticks = INDEX_TICKS.map((v) => ({ value: v })); },
            ticks: { callback: (v: any) => String(v), font: axisFont, color: RED, padding: 9, autoSkip: false },
            grid: { display: false, drawTicks: false },
            border: { display: false },
          },
        },
      } as any,
      plugins: [botPlugin],
    });

    // align the two plot areas on the page: top panel 14..298, bottom panel 298..580
    topRef.current!.style.top = `${TOP_PLOT_TOP - top.chartArea.top}px`;
    botRef.current!.style.top = `${MID_Y - bot.chartArea.top}px`;

    return () => {
      top.destroy();
      bot.destroy();
    };
  }, []);

  return (
    <div style={{ position: "fixed", left: 0, top: 0, width: 1009, height: 624, background: "#fff", overflow: "hidden" }}>
      <canvas
        ref={topRef}
        width={1009}
        height={310}
        style={{ position: "absolute", left: 0, top: 0, width: 1009, height: 310 }}
      />
      <canvas
        ref={botRef}
        width={1009}
        height={BOT_CANVAS_H}
        style={{ position: "absolute", left: 0, top: MID_Y - BOT_PAD_TOP, width: 1009, height: BOT_CANVAS_H }}
      />
    </div>
  );
}
